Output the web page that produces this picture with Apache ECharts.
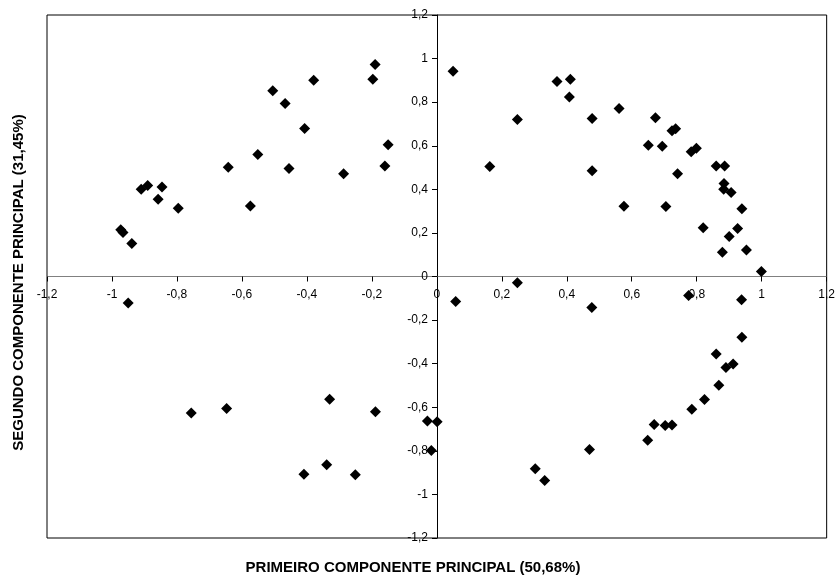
<!DOCTYPE html>
<html>
<head>
<meta charset="utf-8">
<script src="https://cdn.jsdelivr.net/npm/echarts@6/dist/echarts.min.js"></script>
<style>html,body{margin:0;padding:0;background:#fff}#c{width:838px;height:577px}</style>
</head>
<body>
<div id="c"></div>
<script>
var xTitle = 'PRIMEIRO COMPONENTE PRINCIPAL (50,68%)';
var yTitle = 'SEGUNDO COMPONENTE PRINCIPAL (31,45%)';
var xValues = [
 -0.973,-0.966,-0.939,-0.910,-0.890,-0.858,-0.846,-0.796,-0.642,-0.574,-0.551,-0.505,-0.467,-0.455,-0.407,-0.379,-0.287,-0.197,-0.190,-0.160,-0.150,
 0.050,0.163,0.248,0.248,0.370,0.411,0.408,0.478,0.478,0.561,0.576,0.651,0.673,0.694,0.705,0.724,0.735,0.741,0.783,0.799,0.820,0.860,0.886,0.884,0.883,0.906,0.939,0.926,0.900,0.879,0.953,0.999,
 -0.950,-0.756,-0.647,-0.330,-0.189,-0.029,0.001,-0.017,-0.409,-0.339,-0.251,0.058,
 0.477,0.775,0.938,0.939,0.860,0.890,0.912,0.868,0.824,0.785,0.669,0.703,0.724,0.649,0.470,0.303,0.332
];
var yValues = [
 0.214,0.202,0.151,0.400,0.418,0.354,0.411,0.313,0.501,0.324,0.560,0.852,0.794,0.496,0.679,0.901,0.472,0.905,0.973,0.507,0.605,
 0.942,0.505,0.721,-0.029,0.895,0.905,0.824,0.725,0.485,0.771,0.322,0.602,0.728,0.598,0.321,0.669,0.678,0.472,0.573,0.588,0.224,0.507,0.507,0.427,0.400,0.385,0.311,0.220,0.183,0.111,0.122,0.023,
 -0.122,-0.626,-0.606,-0.563,-0.621,-0.663,-0.666,-0.798,-0.908,-0.864,-0.910,-0.115,
 -0.142,-0.087,-0.107,-0.279,-0.356,-0.418,-0.402,-0.499,-0.565,-0.609,-0.679,-0.684,-0.681,-0.751,-0.794,-0.882,-0.936
];
var points = xValues.map(function(x, i){ return [x, yValues[i]]; });
function fmt(v){ return String(+v.toFixed(1)).replace('.', ','); }
var W = 838, H = 577;
var gl = 47, gr = 11, gt = 15, gb = 39;
var gw = W - gl - gr, gh = H - gt - gb;
var chart = echarts.init(document.getElementById('c'), null, {renderer:'canvas'});
chart.setOption({
  animation:false,
  backgroundColor:'#fff',
  grid:{left:gl,right:gr,top:gt,bottom:gb,show:true,borderColor:'#000',borderWidth:1,backgroundColor:'transparent'},
  xAxis:{type:'value',min:-1.2,max:1.2,interval:0.2,position:'bottom',offset:-gh/2,
    axisLine:{onZero:false,lineStyle:{color:'#808080',width:1}},
    axisTick:{show:true,inside:false,length:5,lineStyle:{color:'#000'}},
    axisLabel:{margin:12,color:'#000',fontFamily:'Liberation Sans, Arial',fontSize:12,formatter:fmt},
    splitLine:{show:false}},
  yAxis:{type:'value',min:-1.2,max:1.2,interval:0.2,position:'left',offset:-gw/2,
    axisLine:{onZero:false,lineStyle:{color:'#000',width:1}},
    axisTick:{show:true,inside:false,length:5,lineStyle:{color:'#000'}},
    axisLabel:{margin:9,color:'#000',fontFamily:'Liberation Sans, Arial',fontSize:12,formatter:fmt},
    splitLine:{show:false}},
  graphic:[
    {type:'text',x:413,y:568,style:{text:xTitle,fill:'#000',font:'bold 15px "Liberation Sans", Arial',textAlign:'center',textVerticalAlign:'middle'}},
    {type:'text',x:18.5,y:282.5,rotation:Math.PI/2,style:{text:yTitle,fill:'#000',font:'bold 15px "Liberation Sans", Arial',textAlign:'center',textVerticalAlign:'middle'}}
  ],
  series:[{type:'scatter',data:points,symbol:'diamond',symbolSize:11,itemStyle:{color:'#000',opacity:1}}]
});
</script>
</body>
</html>
